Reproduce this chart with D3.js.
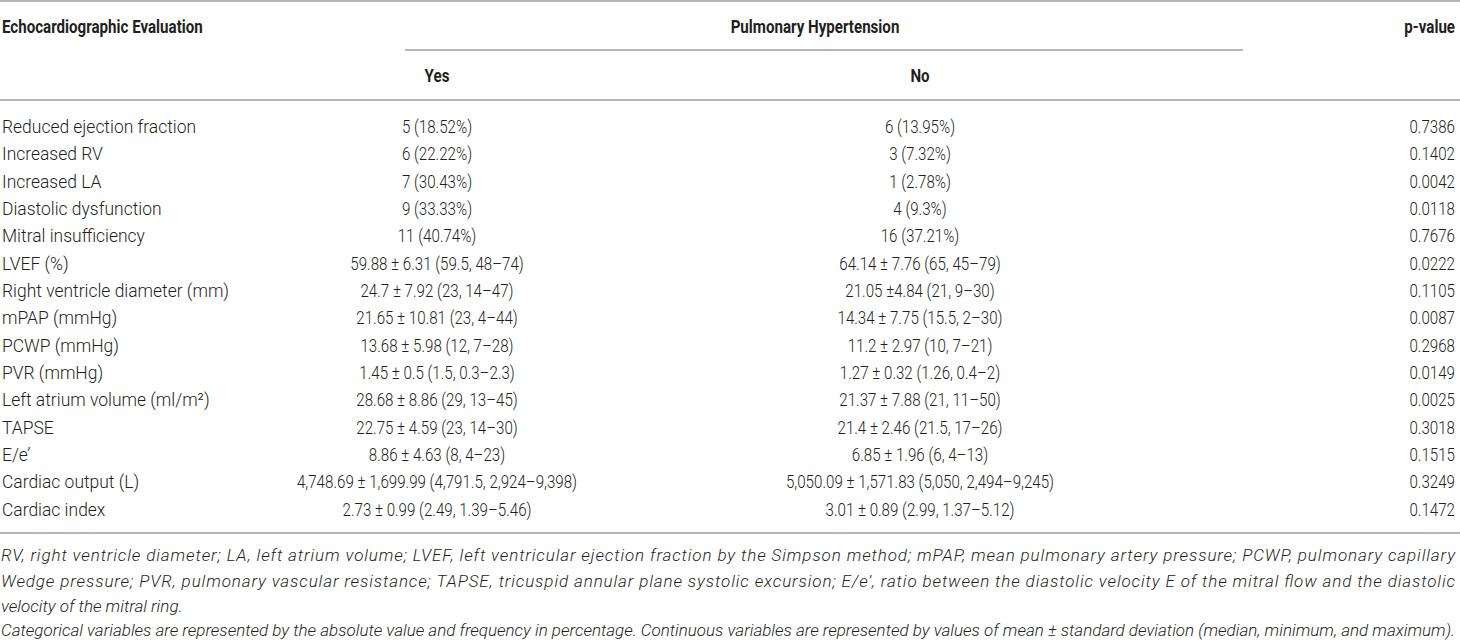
<!DOCTYPE html>
<html>
<head>
<meta charset="utf-8">
<script src="https://cdn.jsdelivr.net/npm/d3@7/dist/d3.min.js"></script>
<style>
  body { margin: 0; background: #fff; }
  svg text { font-family: Roboto, "Liberation Sans", sans-serif; fill: #231f20; }
</style>
</head>
<body>
<div id="table"></div>
<script>
const WIDTH = 1460, HEIGHT = 642;

const rowLabels = [
  "Reduced ejection fraction", "Increased RV", "Increased LA", "Diastolic dysfunction",
  "Mitral insufficiency", "LVEF (%)", "Right ventricle diameter (mm)", "mPAP (mmHg)",
  "PCWP (mmHg)", "PVR (mmHg)", "Left atrium volume (ml/m²)", "TAPSE", "E/e’",
  "Cardiac output (L)", "Cardiac index"
];
const yesValues = [
  "5 (18.52%)", "6 (22.22%)", "7 (30.43%)", "9 (33.33%)", "11 (40.74%)",
  "59.88 ± 6.31 (59.5, 48–74)", "24.7 ± 7.92 (23, 14–47)", "21.65 ± 10.81 (23, 4–44)",
  "13.68 ± 5.98 (12, 7–28)", "1.45 ± 0.5 (1.5, 0.3–2.3)", "28.68 ± 8.86 (29, 13–45)",
  "22.75 ± 4.59 (23, 14–30)", "8.86 ± 4.63 (8, 4–23)",
  "4,748.69 ± 1,699.99 (4,791.5, 2,924–9,398)", "2.73 ± 0.99 (2.49, 1.39–5.46)"
];
const noValues = [
  "6 (13.95%)", "3 (7.32%)", "1 (2.78%)", "4 (9.3%)", "16 (37.21%)",
  "64.14 ± 7.76 (65, 45–79)", "21.05 ±4.84 (21, 9–30)", "14.34 ± 7.75 (15.5, 2–30)",
  "11.2 ± 2.97 (10, 7–21)", "1.27 ± 0.32 (1.26, 0.4–2)", "21.37 ± 7.88 (21, 11–50)",
  "21.4 ± 2.46 (21.5, 17–26)", "6.85 ± 1.96 (6, 4–13)",
  "5,050.09 ± 1,571.83 (5,050, 2,494–9,245)", "3.01 ± 0.89 (2.99, 1.37–5.12)"
];
const pValues = [
  "0.7386", "0.1402", "0.0042", "0.0118", "0.7676", "0.0222", "0.1105", "0.0087",
  "0.2968", "0.0149", "0.0025", "0.3018", "0.1515", "0.3249", "0.1472"
];
const columnKeys = ["label", "yes", "no", "p"];
const headerTop = ["Echocardiographic Evaluation", "Pulmonary Hypertension", "p-value"];
const headerSub = ["Yes", "No"];
const footnotes = [
  "RV, right ventricle diameter; LA, left atrium volume; LVEF, left ventricular ejection fraction by the Simpson method; mPAP, mean pulmonary artery pressure; PCWP, pulmonary capillary",
  "Wedge pressure; PVR, pulmonary vascular resistance; TAPSE, tricuspid annular plane systolic excursion; E/e’, ratio between the diastolic velocity E of the mitral flow and the diastolic",
  "velocity of the mitral ring.",
  "Categorical variables are represented by the absolute value and frequency in percentage. Continuous variables are represented by values of mean ± standard deviation (median, minimum, and maximum)."
];

const svg = d3.select("#table").append("svg")
  .attr("width", WIDTH)
  .attr("height", HEIGHT);

const x = d3.scaleOrdinal().domain(columnKeys).range([2, 437, 920, 1455]);
const anchor = d3.scaleOrdinal().domain(columnKeys).range(["start", "middle", "middle", "end"]);
// horizontal squeeze per column, the source face is narrower than Roboto
const squeeze = d3.scaleOrdinal().domain(columnKeys).range([0.97, 0.84, 0.84, 0.84]);
const y = d3.scaleBand().domain(d3.range(rowLabels.length)).range([113, 523]);

const FS = 18;
const RULE = "#9d9d9d";

// rules
const rule = (x1, x2, yy) => svg.append("line")
  .attr("x1", x1).attr("x2", x2).attr("y1", yy).attr("y2", yy)
  .attr("stroke", RULE).attr("stroke-width", 1.6);
rule(0, WIDTH, 1);
rule(405, 1243, 50);
rule(0, WIDTH, 100);
rule(0, WIDTH, 533);

// header
const headCells = [
  { text: headerTop[0], x: x("label"), y: 27, anchor: "start" },
  { text: headerTop[1], x: 815, y: 27, anchor: "middle" },
  { text: headerTop[2], x: x("p"), y: 27, anchor: "end" },
  { text: headerSub[0], x: x("yes"), y: 76, anchor: "middle" },
  { text: headerSub[1], x: x("no"), y: 76, anchor: "middle" }
];
svg.append("g").attr("class", "header")
  .style("font-weight", 700).style("font-size", `${FS}px`)
  .selectAll("text").data(headCells).join("text")
  .attr("transform", d => `translate(${d.x},${d.y}) scale(0.84,1)`)
  .attr("dy", "0.35em")
  .attr("text-anchor", d => d.anchor)
  .text(d => d.text);

// body rows
const rows = rowLabels.map((label, i) => ({
  i, label, yes: yesValues[i], no: noValues[i], p: pValues[i]
}));

const rowG = svg.append("g").attr("class", "rows")
  .style("font-weight", 300).style("font-size", `${FS}px`)
  .selectAll("g").data(rows).join("g")
  .attr("transform", d => `translate(0,${y(d.i) + y.bandwidth() / 2})`);

columnKeys.forEach(key => {
  rowG.append("text")
    .attr("transform", `translate(${x(key)},0) scale(${squeeze(key)},1)`)
    .attr("dy", "0.35em")
    .attr("text-anchor", anchor(key))
    .text(d => d[key]);
});

// footnotes
const footY = [555, 581, 606, 630];
const justified = [true, true, false, true];
svg.append("g").attr("class", "notes")
  .style("font-style", "italic").style("font-weight", 300).style("font-size", "17px")
  .selectAll("text").data(footnotes).join("text")
  .attr("x", 1)
  .attr("y", (d, i) => footY[i])
  .attr("dy", "0.35em")
  .each(function (d, i) {
    if (justified[i]) {
      d3.select(this).attr("textLength", 1454)
        .attr("lengthAdjust", i === 3 ? "spacingAndGlyphs" : "spacing");
    }
  })
  .text(d => d);
</script>
</body>
</html>
